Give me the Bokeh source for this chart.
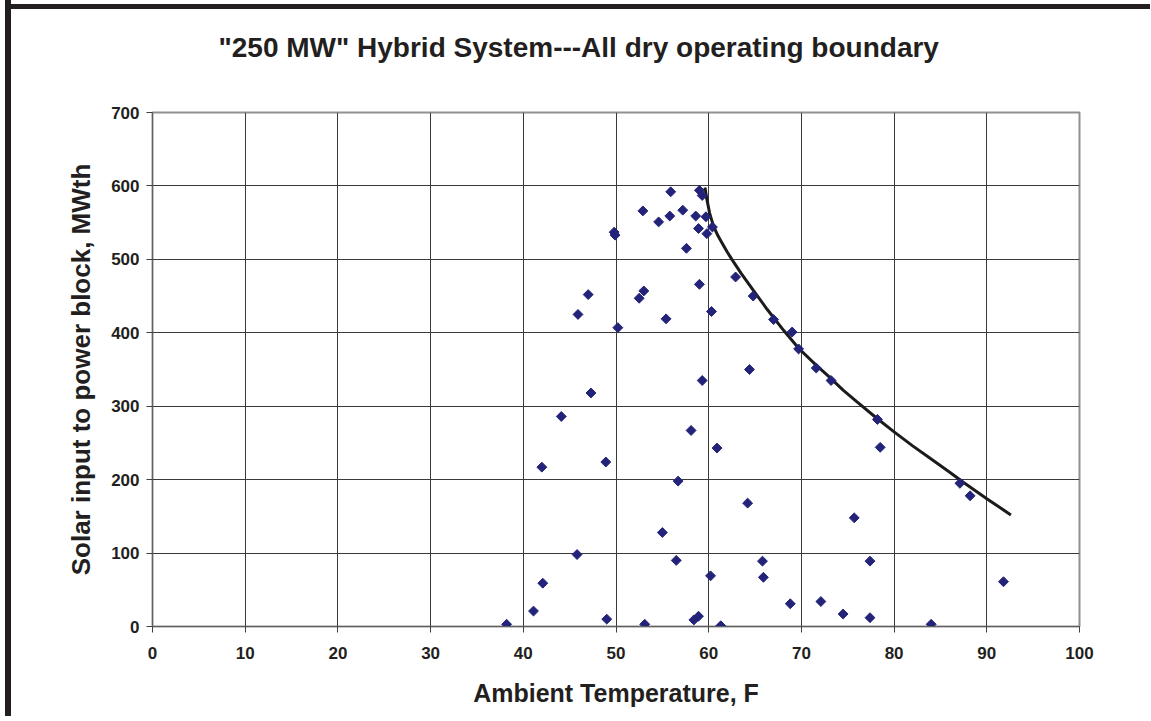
from bokeh.plotting import figure
from bokeh.models import Range1d, FixedTicker
from bokeh.embed import file_html
from bokeh.resources import INLINE
import numpy as np

# Scatter data: ambient temperature (F) vs solar input (MWth)
temp = [38.2, 41.1, 42.1, 42.0, 44.1, 45.8, 45.9, 47.0, 47.3, 48.9,
        49.0, 49.8, 49.9, 50.2, 52.5, 53.0, 52.9, 53.1, 54.6, 55.0,
        55.4, 55.8, 55.9, 56.5, 56.7, 57.2, 57.6, 58.1, 58.4, 58.9,
        58.6, 58.9, 59.0, 59.0, 59.3, 59.3, 59.7, 59.8, 60.4, 60.2,
        60.3, 60.9, 61.3, 62.9, 64.2, 64.4, 64.8, 65.8, 65.9, 67.0,
        68.8, 69.0, 69.7, 71.6, 72.1, 73.2, 74.5, 75.7, 77.4, 77.4,
        78.2, 78.5, 84.0, 87.1, 88.2, 91.8]
solar = [3, 21, 59, 217, 286, 98, 425, 452, 318, 224,
         10, 537, 533, 407, 447, 457, 566, 3, 551, 128,
         419, 559, 592, 90, 198, 567, 515, 267, 9, 14,
         559, 542, 466, 594, 587, 335, 558, 535, 544, 69,
         429, 243, 1, 476, 168, 350, 450, 89, 67, 418,
         31, 401, 378, 352, 34, 335, 17, 148, 89, 12,
         282, 244, 3, 195, 178, 61]

# Operating boundary curve
boundary_temp = [59.6, 59.8, 60.1, 60.5, 61.0, 61.5, 62.0, 62.5, 63.5, 64.8,
                 66.3, 68.1, 69.7, 71.5, 73.0, 74.5, 76.0, 78.0, 80.0, 82.0,
                 84.0, 86.0, 87.5, 90.0, 92.6]
boundary_solar = [598, 582, 563, 546, 532, 521, 510, 500, 481, 458,
                  432, 403, 379, 357, 340, 322, 306, 285, 265, 246,
                  228, 210, 196, 174, 152]

x_ticks = [0, 10, 20, 30, 40, 50, 60, 70, 80, 90, 100]
y_ticks = [0, 100, 200, 300, 400, 500, 600, 700]

TITLE = '"250 MW" Hybrid System---All dry operating boundary'
FONT = "Liberation Sans"
TXT = "#231f20"
FRAME_DARK = "#231f20"

p = figure(width=1145, height=737, output_backend="svg", toolbar_location=None,
           x_range=Range1d(0, 100), y_range=Range1d(0, 700),
           min_border_left=141, min_border_right=77,
           min_border_top=133, min_border_bottom=90,
           title=TITLE)

# dark picture frame on the left and top (as in the scanned original)
p.styles = {
    "margin-left": "5px",
    "margin-top": "-21px",
    "border-left": f"6px solid {FRAME_DARK}",
    "overflow": "hidden",
    "background": f"linear-gradient({FRAME_DARK}, {FRAME_DARK}) 0px 25px / 100% 5px no-repeat border-box, #ffffff",
}
p.border_fill_color = None
p.background_fill_color = "white"

p.title.text_font = FONT
p.title.text_font_style = "bold"
p.title.text_font_size = "28px"
p.title.align = "left"
p.title.offset = 66
p.title.standoff = 100
p.title.text_color = TXT

p.xaxis.ticker = FixedTicker(ticks=x_ticks)
p.yaxis.ticker = FixedTicker(ticks=y_ticks)
p.xaxis.axis_label = "Ambient Temperature, F"
p.yaxis.axis_label = "Solar input to power block, MWth"

for ax in (p.xaxis, p.yaxis):
    ax.axis_label_text_font = FONT
    ax.axis_label_text_font_style = "bold"
    ax.axis_label_text_color = TXT
    ax.major_label_text_font = FONT
    ax.major_label_text_font_style = "bold"
    ax.major_label_text_font_size = "17px"
    ax.major_label_text_color = TXT
    ax.axis_line_color = "#606060"
    ax.major_tick_line_color = "#404040"
    ax.major_tick_out = 6
    ax.major_tick_in = 0
    ax.minor_tick_line_color = None

p.xaxis.axis_label_text_font_size = "25px"
p.yaxis.axis_label_text_font_size = "26px"
p.xaxis.major_label_standoff = 14
p.xaxis.axis_label_standoff = 17
p.yaxis.major_label_standoff = 7
p.yaxis.axis_label_standoff = 12

p.xgrid.grid_line_color = "#3a3a3a"
p.ygrid.grid_line_color = "#3a3a3a"
p.xgrid.grid_line_width = 1
p.ygrid.grid_line_width = 1

p.outline_line_color = "#909090"
p.outline_line_width = 2

p.line(boundary_temp, boundary_solar, line_width=3, color="#1c1a1a")
p.scatter(temp, solar, marker="square", angle=np.pi / 4, size=7,
          fill_color="#23237a", line_color="#23237a")

open("out.html", "w").write(file_html(p, INLINE))
